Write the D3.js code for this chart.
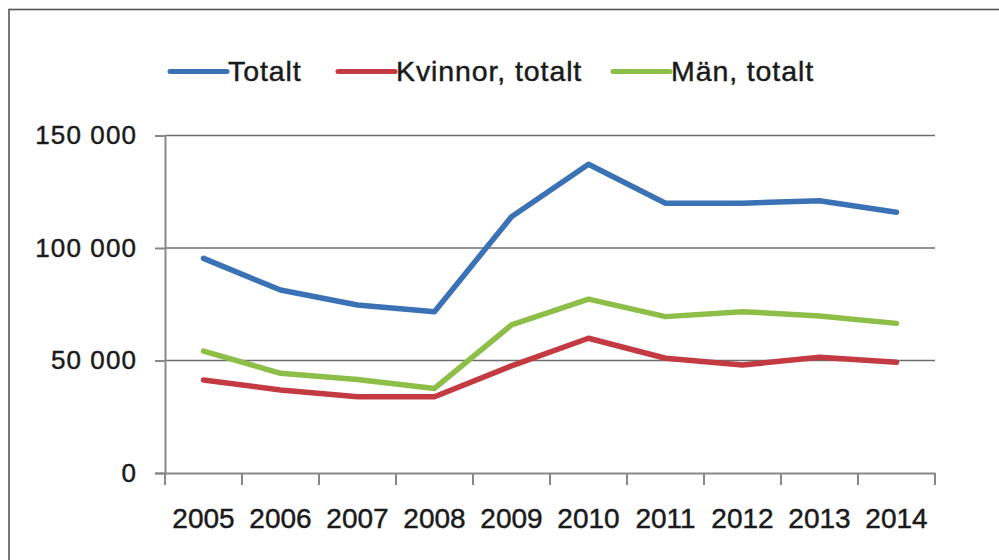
<!DOCTYPE html>
<html><head><meta charset="utf-8">
<script src="https://cdn.jsdelivr.net/npm/d3@7"></script>
<style>body{margin:0;background:#fff}svg{display:block}text{font-family:"Liberation Sans",Arial,sans-serif;fill:#1a1a1a;stroke:#1a1a1a;stroke-width:0.45px}</style>
</head><body><svg id="c" width="999" height="560"></svg>
<script>
const years = ["2005","2006","2007","2008","2009","2010","2011","2012","2013","2014"];
const totalt  = [95400, 81300, 74700, 71700, 113900, 137200, 119900, 119900, 121000, 115900];
const kvinnor = [41300, 36900, 33900, 33900, 47600, 59900, 51000, 48000, 51400, 49200];
const man     = [54200, 44300, 41600, 37600, 65800, 77300, 69500, 71700, 69800, 66500];
const seriesNames = ["Totalt", "Kvinnor, totalt", "Män, totalt"];
const seriesColors = ["#3b72b6", "#c43a42", "#8dbf48"];
const yTicks = [0, 50000, 100000, 150000];

const series = [totalt, kvinnor, man];
const svg = d3.select("#c");
svg.append("rect").attr("x",9).attr("y",9.5).attr("width",1100).attr("height",700)
  .attr("fill","none").attr("stroke","#555").attr("stroke-width",1.6);

const L=165, R=935, T=135.5, B=473;
const x = d3.scaleBand().domain(years).range([L,R]);
const y = d3.scaleLinear().domain([0,150000]).range([B,T]);
const fmt = v => d3.format(",")(v).replace(/,/g," ");

// gridlines
svg.append("g").selectAll("line").data(yTicks.filter(v=>v>0)).join("line")
  .attr("x1",L).attr("x2",R).attr("y1",d=>y(d)).attr("y2",d=>y(d))
  .attr("stroke","#6e6e6e").attr("stroke-width",1.6);

// y axis
const ya = svg.append("g").attr("transform",`translate(${L},0)`)
  .call(d3.axisLeft(y).tickValues(yTicks).tickFormat(fmt).tickSize(10).tickPadding(18));
ya.select(".domain").attr("stroke","#888").attr("stroke-width",2);
ya.selectAll(".tick line").attr("stroke","#888").attr("stroke-width",2);
ya.selectAll(".tick text").attr("font-size",26).attr("letter-spacing",1.1).attr("fill","#1a1a1a")
  .attr("font-family","Liberation Sans, Arial, sans-serif");

// x axis
const xa = svg.append("g").attr("transform",`translate(0,${B})`)
  .call(d3.axisBottom(x).tickSize(0).tickPadding(0));
xa.select(".domain").attr("stroke","#888").attr("stroke-width",2);
xa.selectAll(".tick text").attr("font-size",28).attr("fill","#1a1a1a").attr("dy",0).attr("y",55)
  .attr("font-family","Liberation Sans, Arial, sans-serif");
// boundary ticks between categories
const bounds = years.map(d=>x(d)).concat([R]);
svg.append("g").selectAll("line").data(bounds).join("line")
  .attr("x1",d=>d).attr("x2",d=>d).attr("y1",B).attr("y2",B+12)
  .attr("stroke","#888").attr("stroke-width",2);

// lines
const line = d3.line().x((d,i)=>x(years[i])+x.bandwidth()/2).y(d=>y(d));
series.forEach((s,k)=>{
  svg.append("path").datum(s).attr("d",line).attr("fill","none")
    .attr("stroke",seriesColors[k]).attr("stroke-width",5.5).attr("stroke-linejoin","round").attr("stroke-linecap","round");
});

// legend
const legX = [170, 338, 613];
const lg = svg.append("g");
seriesNames.forEach((n,k)=>{
  lg.append("line").attr("x1",legX[k]).attr("x2",legX[k]+57).attr("y1",71.5).attr("y2",71.5)
    .attr("stroke",seriesColors[k]).attr("stroke-width",5).attr("stroke-linecap","round");
  lg.append("text").attr("x",legX[k]+58).attr("y",80.5).attr("font-size",28.5).attr("letter-spacing",0.9).text(n);
});
</script></body></html>
